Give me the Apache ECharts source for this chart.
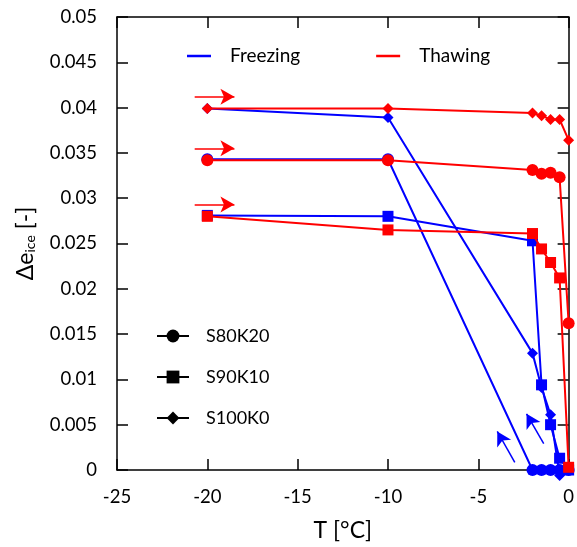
<!DOCTYPE html>
<html lang="en">

<head>
    <meta charset="UTF-8">
    <title>Document</title>
    <script src="https://cdn.jsdelivr.net/npm/echarts@6/dist/echarts.min.js"></script>
    <style>
        body { margin: 0; }
    </style>
</head>

<body>
    <div id="main" style="width: 577px;height:547px;"></div>
    <script>
        // temperature steps (°C)
        let temps = [-20, -10, -2, -1.5, -1, -0.5, 0]
        // freezing (blue)
        let freezeS80 = [0.0343, 0.0343, 0, 0, 0, 0, 0]
        let freezeS90 = [0.0281, 0.0280, 0.0253, 0.0094, 0.0050, 0.0013, 0]
        let freezeS100 = [0.0399, 0.0389, 0.0129, 0.0091, 0.0061, -0.0006, 0.0002]
        // thawing (red)
        let thawS80 = [0.0342, 0.0342, 0.0331, 0.0327, 0.0328, 0.0323, 0.0162]
        let thawS90 = [0.0280, 0.0265, 0.0261, 0.0244, 0.0229, 0.0212, 0.0003]
        let thawS100 = [0.0399, 0.0399, 0.0394, 0.0391, 0.0387, 0.0387, 0.0364]
        // annotation arrows [x0, y0, x1, y1]
        let redArrows = [[-20.7, 0.0412, -18.5, 0.0412], [-20.7, 0.0355, -18.5, 0.0355], [-20.7, 0.0293, -18.5, 0.0293]]
        let blueArrows = [[-2.98, 0.00085, -3.95, 0.00426], [-1.38, 0.0029, -2.33, 0.0062]]
    </script>
    <script>
        var chartDom = document.getElementById('main');
        var myChart = echarts.init(chartDom);
        var option;

        const FONT = 'Lato';
        const BLUE = '#0000ff';
        const RED = '#ff0000';

        function pts(arr) {
            return temps.map((t, i) => [t, arr[i]]);
        }

        function arrowLines(list) {
            return list.map(a => [{ coord: [a[0], a[1]] }, { coord: [a[2], a[3]] }]);
        }

        function mkSeries(name, arr, color, symbol, size, arrows) {
            let s = {
                name: name,
                type: 'line',
                data: pts(arr),
                symbol: symbol,
                symbolSize: size,
                showSymbol: true,
                clip: false,
                lineStyle: { color: color, width: 2 },
                itemStyle: { color: color },
                emphasis: { disabled: true },
                z: color === RED ? 3 : 2
            };
            if (arrows) {
                s.markLine = {
                    silent: true,
                    symbol: ['none', 'arrow'],
                    symbolSize: [12, 14],
                    label: { show: false },
                    lineStyle: { type: 'solid', color: color, width: 1.5 },
                    emphasis: { disabled: true },
                    data: arrowLines(arrows)
                };
            }
            return s;
        }

        // empty series, only there to feed the legends
        function legendSeries(name, color, symbol, size) {
            return {
                name: name,
                type: 'line',
                data: [],
                symbol: symbol,
                symbolSize: size,
                lineStyle: { color: color, width: 2 },
                itemStyle: { color: color }
            };
        }

        const axisLine = { show: true, onZero: false, lineStyle: { color: '#000', width: 1.5 } };
        const axisTick = { show: true, inside: true, length: 11, lineStyle: { color: '#000', width: 1.5 } };

        option = {
            animation: false,
            grid: {
                left: 117,
                right: 7,
                top: 17,
                bottom: 76
            },
            legend: [
                {
                    data: [
                        { name: 'Freezing', icon: 'rect' },
                        { name: 'Thawing', icon: 'rect' }
                    ],
                    left: 182,
                    top: 40,
                    itemWidth: 24,
                    itemHeight: 2.5,
                    itemGap: 76,
                    selectedMode: false,
                    textStyle: { fontFamily: FONT, fontSize: 19, color: '#000', padding: [0, 0, 0, 14], lineHeight: 22 }
                },
                {
                    data: ['S80K20', 'S90K10', 'S100K0'],
                    orient: 'vertical',
                    left: 151,
                    top: 322,
                    itemWidth: 32,
                    itemHeight: 16,
                    itemGap: 23,
                    selectedMode: false,
                    textStyle: { fontFamily: FONT, fontSize: 18, color: '#000', padding: [0, 0, 0, 12] }
                }
            ],
            xAxis: [
                {
                    type: 'value',
                    min: -25,
                    max: 0,
                    interval: 5,
                    name: 'T [°C]',
                    nameLocation: 'middle',
                    nameGap: 49,
                    nameTextStyle: { fontFamily: FONT, fontSize: 23, color: '#000' },
                    axisLine: axisLine,
                    axisTick: axisTick,
                    splitLine: { show: false },
                    axisLabel: { fontFamily: FONT, fontSize: 18.5, color: '#000', margin: 18 }
                },
                {
                    type: 'value',
                    position: 'top',
                    min: -25,
                    max: 0,
                    interval: 5,
                    axisLine: axisLine,
                    axisTick: axisTick,
                    splitLine: { show: false },
                    axisLabel: { show: false }
                }
            ],
            yAxis: [
                {
                    type: 'value',
                    min: 0,
                    max: 0.05,
                    interval: 0.005,
                    name: '{a|Δe}{b|ice}{a| [-]}',
                    nameLocation: 'middle',
                    nameGap: 80,
                    nameTextStyle: {
                        rich: {
                            a: { fontFamily: FONT, fontSize: 23, color: '#000', lineHeight: 28, verticalAlign: 'bottom' },
                            b: { fontFamily: FONT, fontSize: 14, color: '#000', lineHeight: 12, verticalAlign: 'bottom' }
                        }
                    },
                    axisLine: axisLine,
                    axisTick: axisTick,
                    splitLine: { show: false },
                    axisLabel: { fontFamily: FONT, fontSize: 18.5, color: '#000', margin: 20 }
                },
                {
                    type: 'value',
                    position: 'right',
                    min: 0,
                    max: 0.05,
                    interval: 0.005,
                    axisLine: axisLine,
                    axisTick: axisTick,
                    splitLine: { show: false },
                    axisLabel: { show: false }
                }
            ],
            series: [
                mkSeries('F-S80K20', freezeS80, BLUE, 'circle', 12),
                mkSeries('F-S90K10', freezeS90, BLUE, 'rect', 11),
                mkSeries('F-S100K0', freezeS100, BLUE, 'diamond', 11, blueArrows),
                mkSeries('T-S80K20', thawS80, RED, 'circle', 12),
                mkSeries('T-S90K10', thawS90, RED, 'rect', 11, redArrows),
                mkSeries('T-S100K0', thawS100, RED, 'diamond', 11),
                legendSeries('Freezing', BLUE, 'none', 0),
                legendSeries('Thawing', RED, 'none', 0),
                legendSeries('S80K20', '#000', 'circle', 12),
                legendSeries('S90K10', '#000', 'rect', 11),
                legendSeries('S100K0', '#000', 'diamond', 11)
            ]
        };

        option && myChart.setOption(option);
    </script>
</body>

</html>
